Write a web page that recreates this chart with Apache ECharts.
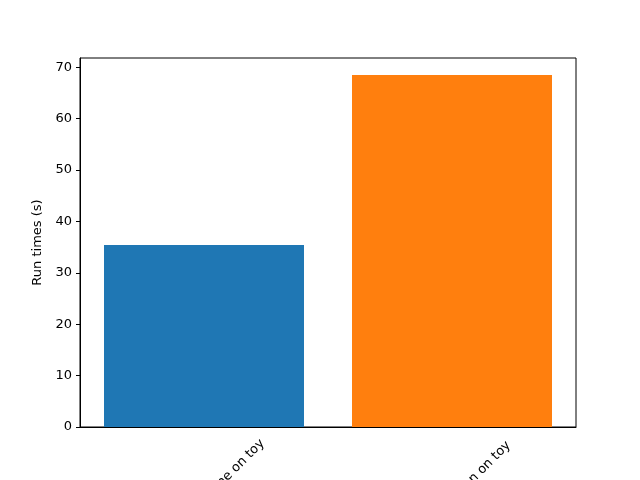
<!DOCTYPE html>
<html>
<head>
<meta charset="utf-8">
<script src="https://cdn.jsdelivr.net/npm/echarts@6/dist/echarts.min.js"></script>
<style>
  html, body { margin: 0; padding: 0; background: #fff; }
  #chart { width: 640px; height: 480px; }
</style>
</head>
<body>
<div id="chart"></div>
<script>
// labels are clipped in the source image, only the endings are visible
const categories = ['Threaded baseline on toy', 'Parallel execution on toy'];
const runTimes = [35.4, 68.5];
const barColors = ['#1f77b4', '#ff7f0e'];

let chart = echarts.init(document.getElementById('chart'));
let font = 'DejaVu Sans';

let option = {
  animation: false,
  grid: {
    left: 80,
    right: 64,
    top: 58,
    bottom: 53,
    containLabel: false,
    outerBoundsMode: 'none',
    show: true,
    borderColor: '#000',
    borderWidth: 1,
    backgroundColor: 'transparent'
  },
  xAxis: {
    type: 'category',
    data: categories,
    axisLine: { lineStyle: { color: '#000', width: 1 } },
    axisTick: { alignWithLabel: true, length: 4, lineStyle: { color: '#000' } },
    axisLabel: {
      rotate: 45,
      align: 'center',
      verticalAlign: 'middle',
      margin: 73,
      color: '#000',
      fontFamily: font,
      fontSize: 13,
      interval: 0,
      hideOverlap: false
    }
  },
  yAxis: {
    type: 'value',
    min: 0,
    max: 71.8,
    interval: 10,
    name: 'Run times (s)',
    nameLocation: 'middle',
    nameGap: 31,
    nameTextStyle: { color: '#000', fontFamily: font, fontSize: 13 },
    axisLine: { show: true, lineStyle: { color: '#000', width: 1 } },
    axisTick: { show: true, length: 4, lineStyle: { color: '#000' } },
    axisLabel: {
      color: '#000',
      fontFamily: font,
      fontSize: 13,
      showMaxLabel: false,
      formatter: v => (v % 10 === 0 ? String(v) : '')
    },
    splitLine: { show: false }
  },
  series: [{
    type: 'bar',
    barWidth: 200,
    data: runTimes.map((v, i) => ({ value: v, itemStyle: { color: barColors[i] } }))
  }]
};
chart.setOption(option);
</script>
</body>
</html>
